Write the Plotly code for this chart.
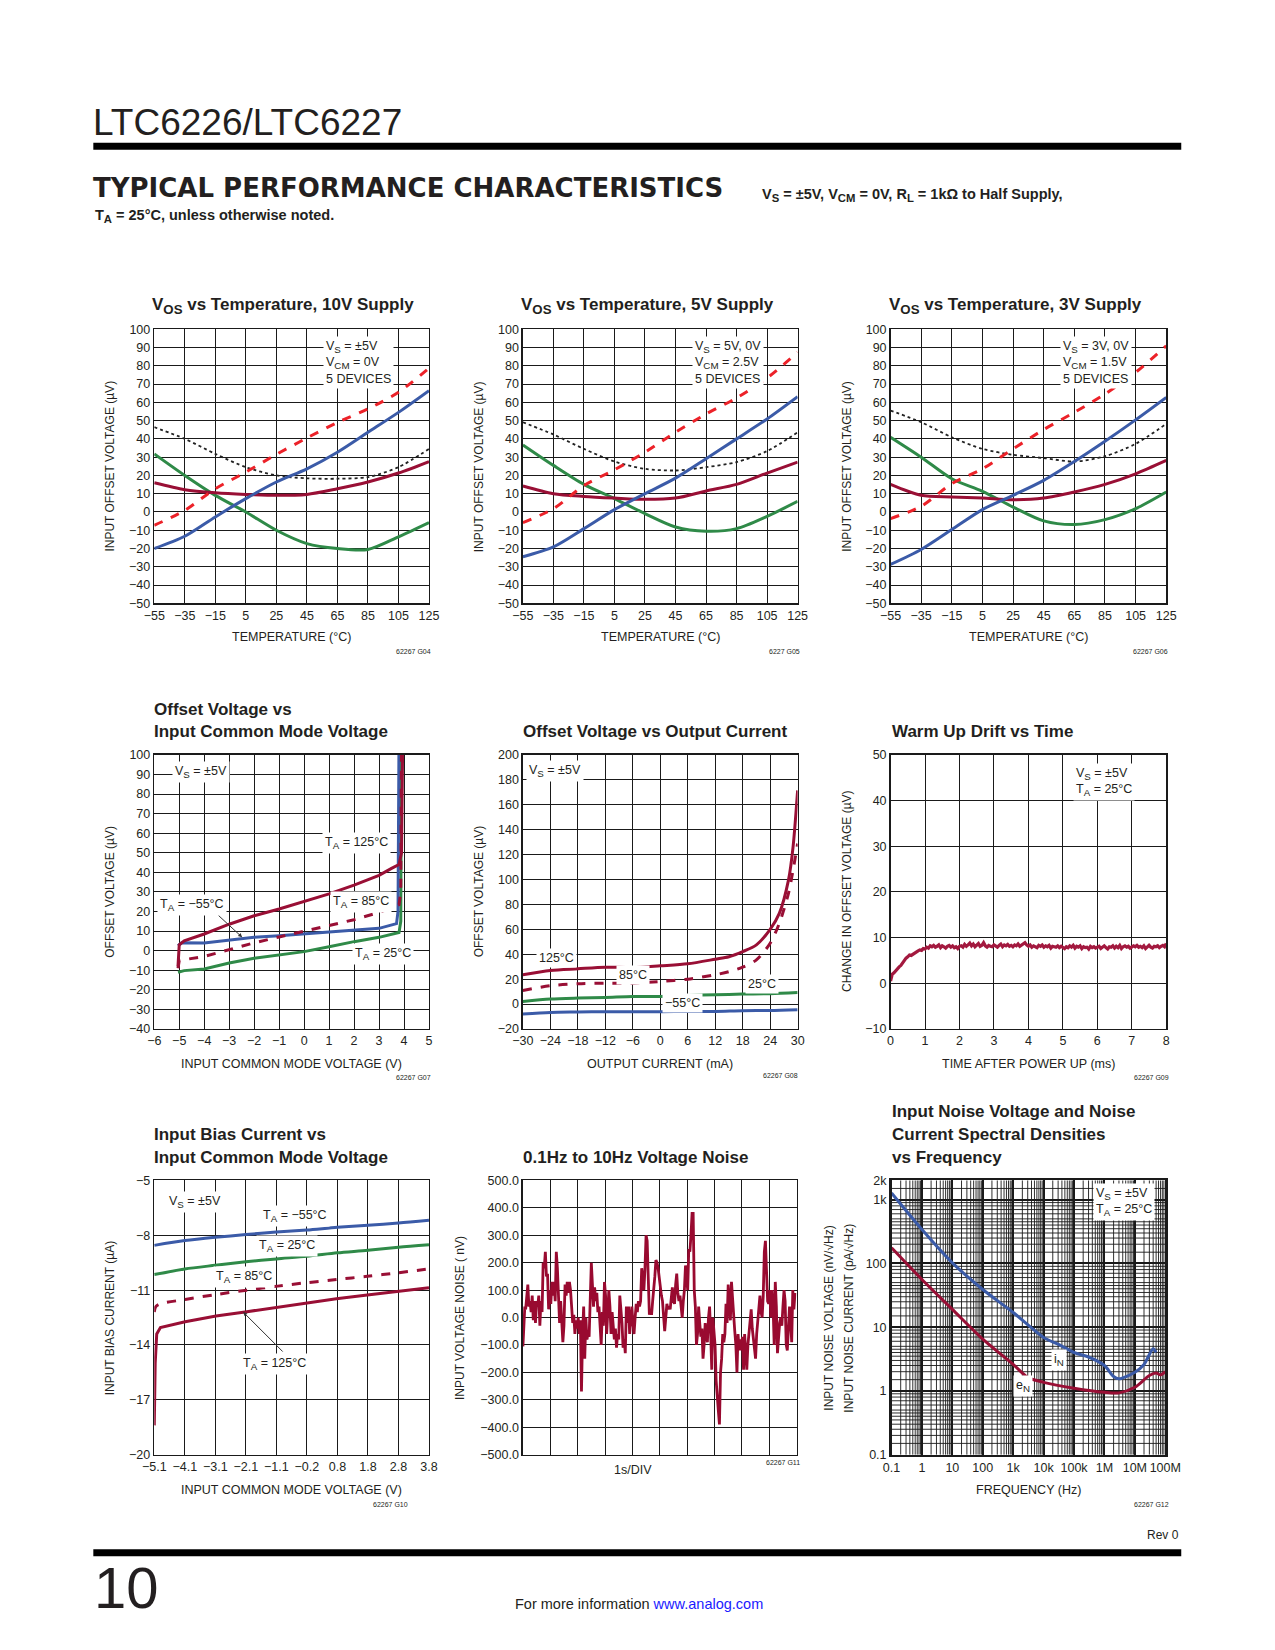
import plotly.graph_objects as go
import numpy as np

W, H = 1275, 1650
SANS = "Liberation Sans, Arial, sans-serif"
TXT = "#231f20"
BLUE = "#3b5ba8"
GREEN = "#2f8a48"
DRED = "#990f35"
RED = "#ec2229"

# ---------------- data ----------------
temps = [-55, -35, -15, 5, 25, 45, 65, 85, 105, 125]
# chart 1: 10V supply
v10_red = [-7.3, 0.9, 12.7, 21.8, 31.5, 40.5, 49.0, 56.4, 65.5, 78.7]
v10_blue = [-20.0, -13.3, -2.7, 7.3, 16.4, 23.6, 32.7, 43.6, 54.5, 66.4]
v10_dred = [16.0, 12.2, 10.5, 9.6, 9.1, 9.6, 12.7, 16.4, 21.3, 27.6]
v10_green = [31.8, 20.0, 9.1, 0.0, -10.0, -17.3, -20.0, -20.5, -13.6, -5.8]
v10_dot = [46.4, 40.0, 31.8, 24.5, 20.0, 18.4, 18.2, 19.1, 24.5, 34.5]
# chart 2: 5V supply
v5_red = [-5.8, 1.8, 14.5, 23.1, 32.7, 43.6, 53.6, 62.4, 73.3, 87.3]
v5_blue = [-24.5, -19.1, -9.1, 1.3, 10.0, 18.5, 29.1, 40.0, 50.9, 63.1]
v5_dred = [14.2, 10.0, 8.5, 7.6, 6.9, 7.6, 11.5, 15.1, 21.3, 27.3]
v5_green = [36.7, 25.5, 15.1, 7.3, -0.9, -8.2, -10.5, -9.1, -2.4, 5.8]
v5_dot = [49.1, 42.4, 34.5, 27.6, 23.6, 22.7, 24.5, 27.3, 33.3, 43.6]
# chart 3: 3V supply
v3_red = [-3.6, 3.1, 15.5, 23.6, 34.5, 45.1, 54.5, 64.5, 76.4, 90.9]
v3_blue = [-28.7, -20.5, -9.6, 1.3, 9.1, 17.3, 27.6, 38.7, 50.4, 62.7]
v3_dred = [15.1, 9.1, 8.2, 7.6, 6.7, 7.6, 10.9, 15.1, 20.9, 28.2]
v3_green = [40.9, 30.0, 18.2, 11.3, 2.7, -4.9, -6.9, -4.2, 1.8, 10.9]
v3_dot = [55.5, 49.1, 40.9, 34.5, 31.3, 29.5, 27.6, 30.5, 37.3, 48.2]

# chart 4: offset vs input common mode voltage
cm125_x = [-5.05, -5.0, -4.8, -4, -3, -2, -1, 0, 1, 2, 3, 3.5, 3.8, 3.9, 3.95]
cm125_y = [-8, 3, 5, 8.5, 13.5, 17.8, 21.3, 25, 29, 33.5, 38.5, 42, 44, 50, 110]
cm85_x = [-5.05, -5.0, -4, -3, -2, -1, 0, 1, 2, 3, 3.8, 3.87, 3.9]
cm85_y = [-9, -5, -3, 0.5, 4, 7, 10, 12.7, 15.8, 19.5, 23.5, 30, 110]
cmm55_x = [-5.05, -4.9, -4, -3, -2, -1, 0, 1, 2, 3, 3.7, 3.76, 3.8]
cmm55_y = [2.5, 4, 3.9, 5.4, 6.8, 7.6, 8.5, 9.3, 10.2, 11.4, 13.8, 20, 110]
cm25_x = [-5.05, -4.8, -4, -3, -2, -1, 0, 1, 2, 3, 3.8, 3.87, 3.9]
cm25_y = [-11, -10.2, -9.4, -6.3, -3.9, -2.2, -0.5, 2, 4.6, 6.8, 9.3, 15, 110]

# chart 5: offset vs output current
iout = [-30, -24, -18, -12, -6, 0, 6, 12, 15, 18, 21, 24, 26, 28, 29, 30]
io125 = [23.5, 26.9, 28.3, 29.6, 29.3, 30.7, 32.3, 36.0, 38.0, 42.1, 47.5, 60.0, 72.8, 99.5, 126.0, 171.5]
io85 = [10.9, 14.7, 16.3, 16.8, 16.8, 18.1, 20.0, 23.5, 26.0, 29.6, 35.5, 48.8, 64.8, 88.8, 107.5, 128.8]
iout_b = [-30, -24, -18, -12, -6, 0, 6, 12, 18, 24, 30]
io25 = [2.1, 4.0, 4.8, 5.3, 6.1, 6.1, 6.9, 7.5, 8.0, 8.3, 9.3]
iom55 = [-8.0, -6.7, -6.4, -6.1, -6.1, -6.1, -5.9, -5.9, -5.3, -5.1, -4.5]

# chart 6: warm up drift (0.05 ms steps)
warm_v = [0.5, 2.0, 2.3, 2.8, 3.2, 3.6, 3.9, 4.5, 4.9, 5.5, 5.8, 6.2, 6.1, 6.4, 6.6, 6.9, 7.1, 7.3, 7.2, 7.6, 7.5,
          7.9, 7.7, 8.2, 8.0, 8.3, 7.9, 8.1, 8.4, 7.8, 8.2, 8.0, 7.7, 8.1, 8.3, 7.9, 8.2, 7.8, 8.0, 7.6, 8.1,
          8.2, 7.9, 8.5, 8.1, 8.4, 8.8, 8.2, 8.6, 8.0, 8.4, 8.7, 8.1, 8.3, 8.9, 8.2, 7.9, 8.3, 8.1, 8.0, 8.4,
          8.2, 7.9, 8.3, 8.6, 8.0, 8.4, 8.2, 8.5, 8.1, 8.3, 8.0, 8.4, 8.2, 8.6, 8.1, 8.3, 8.5, 8.9, 8.4, 8.1,
          8.4, 7.9, 8.2, 8.0, 7.8, 8.3, 8.1, 8.4, 7.9, 8.2, 8.0, 8.3, 7.7, 8.1, 8.0, 7.9, 8.2, 7.8, 8.1, 7.9,
          7.6, 8.0, 7.8, 8.2, 7.9, 8.3, 7.7, 8.1, 7.9, 8.2, 7.6, 8.0, 7.8, 7.9, 7.5, 8.1, 7.8, 8.0, 7.7, 7.9,
          8.1, 7.6, 7.9, 8.2, 7.8, 7.5, 8.0, 7.9, 8.2, 7.7, 8.1, 7.8, 8.3, 7.6, 8.0, 8.2, 7.9, 8.1, 7.7, 8.0,
          8.2, 8.0, 8.3, 7.9, 8.1, 7.8, 8.2, 7.6, 8.0, 8.3, 7.9, 7.7, 8.1, 8.0, 8.2, 7.8, 8.1, 8.3, 8.0, 8.7]
warm_t = [round(i * 0.05, 2) for i in range(len(warm_v))]

# chart 7: input bias current vs input common mode voltage
ib_ticks = ["−5.1", "−4.1", "−3.1", "−2.1", "−1.1", "−0.2", "0.8", "1.8", "2.8", "3.8"]
ib_m55 = [-8.55, -8.29, -8.11, -7.96, -7.82, -7.71, -7.56, -7.45, -7.33, -7.18]
ib_25 = [-10.15, -9.84, -9.64, -9.45, -9.29, -9.15, -8.96, -8.82, -8.65, -8.51]
ib85_x = [-5.1, -5.05, -4.9, -4.1, -3.1, -2.1, -1.1, -0.2, 0.8, 1.8, 2.8, 3.8]
ib_85 = [-12.2, -11.9, -11.75, -11.51, -11.24, -11.0, -10.78, -10.6, -10.42, -10.24, -10.05, -9.84]
ib125_x = [-5.1, -5.07, -5.02, -4.9, -4.1, -3.1, -2.1, -1.1, -0.2, 0.8, 1.8, 2.8, 3.8]
ib_125 = [-18.4, -15.0, -13.4, -13.05, -12.73, -12.42, -12.18, -11.93, -11.73, -11.47, -11.27, -11.05, -10.87]

# chart 8: 0.1Hz to 10Hz noise (time s, nV)
noise_t = [0.00, 0.04, 0.07, 0.10, 0.14, 0.18, 0.22, 0.26, 0.30, 0.34, 0.38, 0.42, 0.46, 0.50, 0.54, 0.58, 0.62, 0.66, 0.70, 0.74, 0.78, 0.82, 0.86, 0.90, 0.94, 0.98,
           1.02, 1.06, 1.10, 1.14, 1.18, 1.22, 1.26, 1.30, 1.34, 1.38, 1.42, 1.46, 1.50, 1.54, 1.58, 1.62, 1.66, 1.70, 1.74, 1.78, 1.82, 1.86, 1.90, 1.94, 1.98,
           2.02, 2.06, 2.10, 2.14, 2.18, 2.22, 2.26, 2.30, 2.34, 2.38, 2.42, 2.46, 2.50, 2.54, 2.58, 2.62, 2.66, 2.70, 2.74, 2.78, 2.82, 2.86, 2.90, 2.94, 2.98,
           3.02, 3.06, 3.10, 3.14, 3.18, 3.22, 3.26, 3.30, 3.34, 3.38, 3.42, 3.46, 3.50, 3.54, 3.58, 3.62, 3.66, 3.70, 3.74, 3.78, 3.82, 3.86, 3.90, 3.94, 3.98,
           4.02, 4.06, 4.10, 4.14, 4.18, 4.22, 4.26, 4.30, 4.34, 4.38, 4.42, 4.46, 4.50, 4.54, 4.58, 4.62, 4.66, 4.70, 4.74, 4.78, 4.82, 4.86, 4.90, 4.94, 4.98,
           5.02, 5.06, 5.10, 5.14, 5.18, 5.22, 5.26, 5.30, 5.34, 5.38, 5.42, 5.46, 5.50, 5.54, 5.58, 5.62, 5.66, 5.70, 5.74, 5.78, 5.82, 5.86, 5.90, 5.94, 5.98,
           6.02, 6.06, 6.10, 6.14, 6.18, 6.22, 6.26, 6.30, 6.34, 6.38, 6.42, 6.46, 6.50, 6.54, 6.58, 6.62, 6.66, 6.70, 6.74, 6.78, 6.82, 6.86, 6.90, 6.94, 6.98,
           7.02, 7.06, 7.10, 7.14, 7.18, 7.22, 7.26, 7.30, 7.34, 7.38, 7.42, 7.46, 7.50, 7.54, 7.58, 7.62, 7.66, 7.70, 7.74, 7.78, 7.82, 7.86, 7.90, 7.94, 7.98,
           8.02, 8.06, 8.10, 8.14, 8.18, 8.22, 8.26, 8.30, 8.34, 8.38, 8.42, 8.46, 8.50, 8.54, 8.58, 8.62, 8.66, 8.70, 8.74, 8.78, 8.82, 8.86, 8.90, 8.94, 8.98,
           9.02, 9.06, 9.10, 9.14, 9.18, 9.22, 9.26, 9.30, 9.34, 9.38, 9.42, 9.46, 9.50, 9.54, 9.58, 9.62, 9.66, 9.70, 9.74, 9.78, 9.82, 9.86, 9.90, 9.94, 10.0]
noise_v = [-105, -20, 40, 30, 90, 120, 40, 60, 20, 80, -10, 60, -20, 60, 40, 80, -30, 60, 20, 200, 180, 240, 150, 160, 30, 100,
           50, 130, 80, 130, 60, 240, 180, 40, -20, 60, -10, -90, -30, 120, 80, 130, 90, 130, 100, 40, -20, 10, -60, -10, -40,
           0, -60, -10, -270, -60, 40, -150, 0, -80, -60, -70, 80, 200, 120, 40, 110, 60, 90, 20, 40, -20, -100, 20, -30,
           130, 80, -60, 20, 100, 40, -60, 20, -30, -80, -40, -110, -60, -80, 80, 40, -20, -110, -80, -130, 40, -20, 40, -60, 0,
           40, -20, -60, 0, 50, 20, 60, 40, 60, 180, 150, 100, 180, 300, 280, 120, 10, 30, 10, 60, 100, 150, 210, 200, 180,
           140, 100, 80, 60, -20, -50, 0, 50, 30, 40, 30, 80, 110, 60, 50, 120, 160, 90, 60, 80, 40, 0, 60, 100, 190,
           150, 100, 250, 240, 300, 380, 380, 100, 40, -100, -60, 40, -20, -70, -40, -150, -100, -20, -60, -90, 0, 40, -60, -190, 0,
           -60, -100, -230, -300, -340, -390, -200, -150, -60, -90, -60, 50, -20, 120, 40, -10, 130, 60, 0, -50, -100, -200, -60, -120, -80,
           -120, -70, -190, -60, -120, -190, -100, -60, -20, 30, -40, -80, -100, -150, -60, -20, 40, 80, 20, 0, 80, 240, 280, 180, 60,
           50, 100, 0, 100, 40, -100, 130, 40, -130, -60, -20, 0, -30, 40, 100, 60, -100, -120, -40, 40, -10, -90, 100, 30, 90]

# chart 9: noise spectral densities
f_in = [0.1, 1, 10, 100, 1e3, 1e4, 3e4, 1e5, 3e5, 1e6, 2e6, 3e6, 1e7, 2e7, 4e7, 5e7]
i_n = [1270, 340, 102, 39, 17, 6.9, 5.4, 4.0, 3.4, 2.5, 1.68, 1.55, 1.96, 2.6, 4.6, 4.0]
f_en = [0.1, 1, 10, 100, 1e3, 3e3, 1e4, 1e5, 1e6, 3e6, 1e7, 3e7, 5e7, 7e7, 1e8]
e_n = [176, 56, 19, 6.5, 2.6, 1.63, 1.36, 1.1, 0.95, 0.93, 1.14, 1.74, 1.9, 1.78, 2.0]
f_ticks = ["0.1", "1", "10", "100", "1k", "10k", "100k", "1M", "10M", "100M"]
f_decades = [0.1, 1, 10, 100, 1e3, 1e4, 1e5, 1e6, 1e7, 1e8]
n_ticks = ["0.1", "1", "10", "100", "1k", "2k"]
n_decades = [0.1, 1, 10, 100, 1000, 2000]
x_minor_mult = [2, 3, 4, 5, 6, 7, 8, 9]
y_minor_mult = [1.5, 2, 2.5, 3, 3.5, 4, 4.5, 5, 6, 7, 8, 9]

# ---------------- layout helpers ----------------
# page positions are given in reference-page pixels; the capture of this page
# showed a slight shrink/offset, which these two maps undo
def px(x):
    return ((x - 11.6) / 0.979) / W

def py(y):
    return 1 - ((y - 4.74) / 0.9947) / H

def sb(s):
    return "<span style='font-size:0.78em;baseline-shift:-0.28em'>" + s + "</span>"

areas = {
    1: (154, 429, 328, 603), 2: (523, 798, 328, 603), 3: (891, 1167, 328, 603),
    4: (154, 429, 755, 1030), 5: (523, 798, 755, 1030), 6: (891, 1167, 755, 1030),
    7: (154, 429, 1182, 1457), 8: (523, 797, 1182, 1457), 9: (892, 1166, 1182, 1457),
}

fig = go.Figure()
layout = dict(width=W, height=H, margin=dict(l=0, r=0, t=0, b=0), autosize=False,
              paper_bgcolor="white", plot_bgcolor="white", showlegend=False,
              font=dict(family=SANS, color=TXT, size=12))

def axis_pair(n, xr, yr, xdt=None, ydt=None, xtype="linear", ytype="linear", xtick=None, ytick=None,
              xshow=True, yfmt=None, tfs=12.5):
    l, r, t, b = areas[n]
    sx = "" if n == 1 else str(n)
    common = dict(showgrid=True, gridcolor="#1a1a1a", gridwidth=1, showline=True, mirror=True,
                  linecolor="#1a1a1a", linewidth=1.5, zeroline=False, ticks="", tickangle=0,
                  tickfont=dict(family=SANS, size=tfs, color=TXT), fixedrange=True)
    xa = dict(common, domain=[px(l), px(r)], range=xr, type=xtype, anchor="y" + sx)
    ya = dict(common, domain=[py(b), py(t)], range=yr, type=ytype, anchor="x" + sx)
    if xdt is not None:
        xa["dtick"] = xdt
        xa["tick0"] = xr[0]
    if ydt is not None:
        ya["dtick"] = ydt
        ya["tick0"] = yr[0]
    if xtick is not None:
        xa["tickmode"] = "array"
        xa["tickvals"], xa["ticktext"] = xtick
    if ytick is not None:
        ya["tickmode"] = "array"
        ya["tickvals"], ya["ticktext"] = ytick
    if not xshow:
        xa["showticklabels"] = False
    if yfmt:
        ya["tickformat"] = yfmt
    layout["xaxis" + sx] = xa
    layout["yaxis" + sx] = ya
    return "x" + sx, "y" + sx

def line(xa, ya, x, y, color, width=3, dash="solid", shape="spline"):
    fig.add_trace(go.Scatter(x=x, y=y, xaxis=xa, yaxis=ya, mode="lines",
                             line=dict(color=color, width=width, dash=dash, shape=shape, smoothing=0.8),
                             hoverinfo="skip"))

ann = []

def text(x, y, s, size=12.5, xanchor="left", yanchor="middle", bg=None, angle=0, family=SANS, color=TXT, align="left"):
    d = dict(x=px(x), y=py(y), xref="paper", yref="paper", text=s, showarrow=False,
             xanchor=xanchor, yanchor=yanchor, align=align, textangle=angle,
             font=dict(family=family, size=size, color=color))
    if bg:
        d["bgcolor"] = bg
        d["borderpad"] = 2
    ann.append(d)

def title(x, ys, lines):
    for yy, s in zip(ys, lines):
        text(x, yy, "<b>" + s + "</b>", size=17)

# ---------- charts 1-3 ----------
temp_sets = [
    (1, v10_red, v10_blue, v10_dred, v10_green, v10_dot, "V" + sb("OS") + " vs Temperature, 10V Supply",
     ["V" + sb("S") + " = ±5V", "V" + sb("CM") + " = 0V", "5 DEVICES"], 110, "62267 G04"),
    (2, v5_red, v5_blue, v5_dred, v5_green, v5_dot, "V" + sb("OS") + " vs Temperature, 5V Supply",
     ["V" + sb("S") + " = 5V, 0V", "V" + sb("CM") + " = 2.5V", "5 DEVICES"], 479, "6227 G05"),
    (3, v3_red, v3_blue, v3_dred, v3_green, v3_dot, "V" + sb("OS") + " vs Temperature, 3V Supply",
     ["V" + sb("S") + " = 3V, 0V", "V" + sb("CM") + " = 1.5V", "5 DEVICES"], 848, "62267 G06"),
]
for n, red, blue, dred, green, dot, ttl, box, ytx, code in temp_sets:
    xa, ya = axis_pair(n, [-55, 125], [-50, 100], xdt=20, ydt=10)
    line(xa, ya, temps, dot, "#222222", width=1.8, dash="dot")
    line(xa, ya, temps, green, GREEN)
    line(xa, ya, temps, dred, DRED)
    line(xa, ya, temps, blue, BLUE)
    line(xa, ya, temps, red, RED, dash="dash")
    l, r, t, b = areas[n]
    title(l - 4, [305], [ttl])
    text(r - 106, 361, "<br>".join(box), size=12.5, bg="white")
    text(ytx, (t + b) / 2, "INPUT OFFSET VOLTAGE (µV)", size=12, xanchor="center", angle=-90)
    text((l + r) / 2, 637, "TEMPERATURE (°C)", size=12.5, xanchor="center")
    text(r + 4, 651, code, size=7, xanchor="right")

TA = "T" + sb("A")
VS = "V" + sb("S")

# ---------- chart 4 ----------
xa, ya = axis_pair(4, [-6, 5], [-40, 100], xdt=1, ydt=10)
line(xa, ya, cm25_x, cm25_y, GREEN, shape="linear")
line(xa, ya, cmm55_x, cmm55_y, BLUE, shape="linear")
line(xa, ya, cm85_x, cm85_y, DRED, dash="dash", shape="linear")
line(xa, ya, cm125_x, cm125_y, DRED, shape="linear")
title(152, [709, 732], ["Offset Voltage vs", "Input Common Mode Voltage"])
text(172, 772, VS + " = ±5V", bg="white")
text(322, 843, TA + " = 125°C", bg="white")
text(330, 903, TA + " = 85°C", bg="white")
text(157, 906, TA + " = −55°C", bg="white")
text(352, 955, TA + " = 25°C", bg="white")
ann.append(dict(x=px(242), y=py(938), xref="paper", yref="paper", text="", showarrow=True,
                ax=-25, ay=-23, arrowhead=2, arrowsize=0.8, arrowwidth=1, arrowcolor="#333"))
text(110, 892, "OFFSET VOLTAGE (µV)", size=12, xanchor="center", angle=-90)
text(291, 1065, "INPUT COMMON MODE VOLTAGE (V)", xanchor="center")
text(433, 1079, "62267 G07", size=7, xanchor="right")

# ---------- chart 5 ----------
xa, ya = axis_pair(5, [-30, 30], [-20, 200], xdt=6, ydt=20)
line(xa, ya, iout_b, iom55, BLUE)
line(xa, ya, iout_b, io25, GREEN)
line(xa, ya, iout, io85, DRED, dash="dash")
line(xa, ya, iout, io125, DRED)
title(521, [732], ["Offset Voltage vs Output Current"])
text(526, 771, VS + " = ±5V", bg="white")
text(536, 959, "125°C", bg="white")
text(616, 976, "85°C", bg="white")
text(745, 985, "25°C", bg="white")
text(662, 1004, "−55°C", bg="white")
text(479, 892, "OFFSET VOLTAGE (µV)", size=12, xanchor="center", angle=-90)
text(660, 1065, "OUTPUT CURRENT (mA)", xanchor="center")
text(800, 1077, "62267 G08", size=7, xanchor="right")

# ---------- chart 6 ----------
xa, ya = axis_pair(6, [0, 8], [-10, 50], xdt=1, ydt=10)
line(xa, ya, warm_t, warm_v, "#a3193f", width=3.2, shape="linear")
title(890, [732], ["Warm Up Drift vs Time"])
text(1074, 782, VS + " = ±5V<br>" + TA + " = 25°C", bg="white")
text(848, 892, "CHANGE IN OFFSET VOLTAGE (µV)", size=12, xanchor="center", angle=-90)
text(1029, 1065, "TIME AFTER POWER UP (ms)", xanchor="center")
text(1172, 1079, "62267 G09", size=7, xanchor="right")

# ---------- chart 7 ----------
ib_pos = list(np.linspace(-5.1, 3.8, len(ib_ticks)))
xa, ya = axis_pair(7, [-5.1, 3.8], [-20, -5], ydt=3, xtick=(ib_pos, ib_ticks))
line(xa, ya, ib_pos, ib_m55, BLUE)
line(xa, ya, ib_pos, ib_25, GREEN)
line(xa, ya, ib85_x, ib_85, DRED, dash="dash")
line(xa, ya, ib125_x, ib_125, DRED, shape="linear")
title(152, [1136, 1159], ["Input Bias Current vs", "Input Common Mode Voltage"])
text(166, 1204, VS + " = ±5V", bg="white")
text(260, 1218, TA + " = −55°C", bg="white")
text(256, 1248, TA + " = 25°C", bg="white")
text(213, 1279, TA + " = 85°C", bg="white")
text(240, 1366, TA + " = 125°C", bg="white")
ann.append(dict(x=px(243), y=py(1314), xref="paper", yref="paper", text="", showarrow=True,
                ax=41, ay=41, arrowhead=2, arrowsize=0.8, arrowwidth=1, arrowcolor="#333"))
text(110, 1320, "INPUT BIAS CURRENT (µA)", size=12, xanchor="center", angle=-90)
text(291, 1493, "INPUT COMMON MODE VOLTAGE (V)", xanchor="center")
text(410, 1507, "62267 G10", size=7, xanchor="right")

# ---------- chart 8 ----------
xa, ya = axis_pair(8, [0, 10], [-500, 500], xdt=1, ydt=100, xshow=False, yfmt=".1f")
line(xa, ya, noise_t, noise_v, "#990a30", width=2.8, shape="linear")
title(521, [1159], ["0.1Hz to 10Hz Voltage Noise"])
text(460, 1320, "INPUT VOLTAGE NOISE ( nV)", size=12, xanchor="center", angle=-90)
text(633, 1472, "1s/DIV", xanchor="center")
text(802, 1465, "62267 G11", size=7, xanchor="right")

# ---------- chart 9 ----------
xa, ya = axis_pair(9, [-1, 8], [-1, np.log10(2000)], xtype="log", ytype="log",
                   xtick=(f_decades, f_ticks), ytick=(n_decades, n_ticks))
layout["xaxis9"]["linewidth"] = 2.5
layout["yaxis9"]["linewidth"] = 2.5
layout["xaxis9"]["gridwidth"] = 2
layout["yaxis9"]["gridwidth"] = 2
line(xa, ya, f_in, i_n, BLUE)
line(xa, ya, f_en, e_n, DRED)
title(890, [1113, 1136, 1159], ["Input Noise Voltage and Noise", "Current Spectral Densities", "vs Frequency"])
text(1094, 1204, VS + " = ±5V<br>" + TA + " = 25°C", bg="white")
text(1052, 1362, "i" + sb("N"), bg="white")
text(1014, 1388, "e" + sb("N"), bg="white")
text(829, 1320, "INPUT NOISE VOLTAGE (nV/√Hz)", size=12, xanchor="center", angle=-90)
text(849, 1320, "INPUT NOISE CURRENT (pA/√Hz)", size=12, xanchor="center", angle=-90)
text(1029, 1493, "FREQUENCY (Hz)", xanchor="center")
text(1172, 1507, "62267 G12", size=7, xanchor="right")

shapes = [
    dict(type="rect", xref="paper", yref="paper", x0=px(93), x1=px(1182), y0=py(148), y1=py(141),
         fillcolor="black", line=dict(width=0)),
    dict(type="rect", xref="paper", yref="paper", x0=px(93), x1=px(1182), y0=py(1559), y1=py(1552),
         fillcolor="black", line=dict(width=0)),
]
# minor grid lines of the log-log chart
for d in f_decades[:-1]:
    for m in x_minor_mult:
        shapes.append(dict(type="line", xref="x9", yref="y9 domain", x0=d * m, x1=d * m, y0=0, y1=1,
                           line=dict(color="#1a1a1a", width=0.9), layer="below"))
for d in n_decades[:4]:
    for m in y_minor_mult:
        shapes.append(dict(type="line", xref="x9 domain", yref="y9", x0=0, x1=1, y0=d * m, y1=d * m,
                           line=dict(color="#1a1a1a", width=0.9), layer="below"))
shapes.append(dict(type="line", xref="x9 domain", yref="y9", x0=0, x1=1, y0=1500, y1=1500,
                   line=dict(color="#1a1a1a", width=0.9), layer="below"))

# ---------- page header / footer ----------
text(91, 121, "LTC6226/LTC6227", size=37, family="Liberation Sans, sans-serif")
text(91, 186, "<b>TYPICAL PERFORMANCE CHARACTERISTICS</b>", size=26, family="DejaVu Sans, sans-serif")
text(760, 193, "<b>V" + sb("S") + " = ±5V, V" + sb("CM") + " = 0V, R" + sb("L") + " = 1kΩ to Half Supply,</b>", size=14.5)
text(93, 214, "<b>T" + sb("A") + " = 25°C, unless otherwise noted.</b>", size=14.5)
text(1182, 1538, "Rev 0", size=12, xanchor="right")
text(92, 1590, "10", size=58, family="Liberation Sans, sans-serif")
text(639, 1607, "For more information <span style='color:#1a1aff'>www.analog.com</span>", size=14.5, xanchor="center")

layout["annotations"] = ann
layout["shapes"] = shapes
fig.update_layout(**layout)
fig.write_html("out.html", config={"displayModeBar": False, "staticPlot": True},
               post_script="document.body.style.margin='0';document.body.style.padding='0';"
                           "document.documentElement.style.overflow='hidden';document.body.style.overflow='hidden';")
